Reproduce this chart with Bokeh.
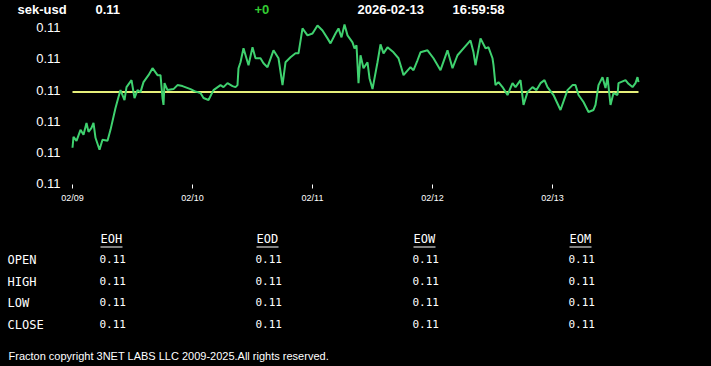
import pandas as pd
from bokeh.plotting import figure
from bokeh.layouts import column, row
from bokeh.models import (Range1d, FixedTicker, DatetimeTickFormatter, PrintfTickFormatter,
                          ColumnDataSource)
from bokeh.core.properties import value
from bokeh.embed import file_html
from bokeh.resources import INLINE

# ---------------- data ----------------
symbol = "sek-usd"
last_price = "0.11"
change = "+0"
stamp_date = "2026-02-13"
stamp_time = "16:59:58"
start_day = "2026-02-09"
day_ticks = ["2026-02-09", "2026-02-10", "2026-02-11", "2026-02-12", "2026-02-13"]
y_ticks = [0.1090, 0.1095, 0.1100, 0.1105, 0.1110, 0.1115]
ref_level = 0.11047

hours = [0.0, 0.2, 0.8, 1.6, 2.2, 2.8, 3.2, 3.8, 4.2, 4.6, 5.4, 6.0, 7.0, 7.6, 8.6, 9.2, 9.6,
         10.4, 10.8, 11.8, 12.4, 13.0, 13.6, 14.2, 15.2, 16.0, 17.0, 17.6, 18.0, 18.2, 18.4,
         19.0, 20.2, 21.0, 22.0, 23.6, 24.4, 25.6, 26.2, 27.2, 28.2, 29.6, 30.2, 31.0, 32.0,
         32.6, 33.0, 33.2, 33.6, 34.2, 35.2, 36.0, 36.6, 37.6, 38.2, 39.0, 40.2, 41.2, 42.0,
         42.6, 43.6, 44.6, 45.2, 46.0, 47.0, 48.0, 49.0, 50.0, 51.0, 51.6, 52.6, 53.2, 53.8,
         54.4, 55.0, 56.0, 56.4, 56.8, 57.2, 57.6, 58.2, 59.0, 59.4, 60.0, 61.0, 61.6, 62.2,
         63.0, 64.2, 65.2, 65.8, 66.2, 67.6, 68.2, 69.0, 69.6, 71.0, 72.2, 73.6, 75.0, 76.0,
         77.0, 78.2, 79.6, 80.2, 80.6, 81.6, 82.6, 83.2, 84.0, 84.2, 84.6, 85.2, 86.0, 87.0,
         88.0, 88.6, 89.6, 90.2, 91.0, 92.0, 92.8, 93.6, 94.4, 95.0, 96.2, 97.6, 99.0, 100.0,
         100.6, 101.2, 102.2, 103.2, 104.2, 104.6, 105.2, 106.0, 106.6, 107.0, 107.6, 108.2,
         109.0, 109.2, 110.6, 111.2, 112.0, 112.6, 113.0, 113.2]
prices = [0.109578, 0.109753, 0.109689, 0.109864, 0.109784, 0.109975, 0.109832, 0.109896,
          0.109975, 0.109737, 0.109546, 0.109705, 0.109689, 0.109864, 0.110214, 0.110389,
          0.110500, 0.110341, 0.110548, 0.110659, 0.110373, 0.110500, 0.110468, 0.110627,
          0.110739, 0.110850, 0.110739, 0.110739, 0.110373, 0.110262, 0.110611, 0.110500,
          0.110516, 0.110580, 0.110564, 0.110516, 0.110484, 0.110452, 0.110373, 0.110341,
          0.110500, 0.110580, 0.110548, 0.110611, 0.110564, 0.110548, 0.110580, 0.110850,
          0.110945, 0.111168, 0.110898, 0.111184, 0.111009, 0.111009, 0.110930, 0.110866,
          0.111136, 0.111009, 0.110580, 0.110945, 0.111025, 0.111088, 0.111088, 0.111486,
          0.111375, 0.111406, 0.111534, 0.111454, 0.111327, 0.111247, 0.111406, 0.111486,
          0.111343, 0.111549, 0.111375, 0.111263, 0.111168, 0.111216, 0.110611, 0.111057,
          0.110850, 0.110945, 0.110691, 0.110516, 0.110945, 0.111231, 0.111088, 0.111184,
          0.111104, 0.111009, 0.110850, 0.110739, 0.110866, 0.110818, 0.110977, 0.111104,
          0.111136, 0.111009, 0.110818, 0.111136, 0.110850, 0.111057, 0.111168, 0.111295,
          0.111104, 0.110898, 0.111327, 0.111168, 0.111184, 0.111009, 0.110898, 0.110580,
          0.110627, 0.110548, 0.110421, 0.110611, 0.110548, 0.110659, 0.110262, 0.110468,
          0.110548, 0.110500, 0.110611, 0.110660, 0.110548, 0.110421, 0.110182, 0.110500,
          0.110580, 0.110580, 0.110421, 0.110309, 0.110150, 0.110182, 0.110262, 0.110580,
          0.110707, 0.110532, 0.110707, 0.110262, 0.110452, 0.110421, 0.110611, 0.110659,
          0.110600, 0.110548, 0.110611, 0.110707, 0.110627]

table_cols = ["EOH", "EOD", "EOW", "EOM"]
row_labels = ["OPEN", "HIGH", "LOW", "CLOSE"]
eoh_vals = [0.1105, 0.1107, 0.1104, 0.1106]
eod_vals = [0.1103, 0.1108, 0.1101, 0.1106]
eow_vals = [0.1096, 0.1115, 0.1095, 0.1106]
eom_vals = [0.1098, 0.1115, 0.1090, 0.1106]
footer = "Fracton copyright 3NET LABS LLC 2009-2025.All rights reserved."

W = 711
H_HEAD, H_CHART, H_TAB = 18, 192, 156
SANS = "Liberation Sans"
MONO = "DejaVu Sans Mono"
BLACK_CSS = {"background-color": "#000000"}


def panel(height, y_top):
    f = figure(width=W, height=height, output_backend="svg", toolbar_location=None,
               x_range=Range1d(0, W), y_range=Range1d(y_top + height, y_top),
               x_axis_location=None, y_axis_location=None,
               min_border=0, min_border_left=0, min_border_right=0,
               min_border_top=0, min_border_bottom=0, styles=BLACK_CSS)
    f.background_fill_color = "black"
    f.border_fill_color = "black"
    f.outline_line_color = None
    f.grid.visible = False
    return f


# ---------------- header ----------------
head = panel(H_HEAD, 0)
head.text(x=[17, 95, 357, 452], y=[9, 9, 9, 9],
          text=[symbol, last_price, stamp_date, stamp_time],
          text_color="white", text_font=value(SANS), text_font_size="13px",
          text_font_style="bold", text_baseline="middle", text_align="left")
head.text(x=[254], y=[9], text=[change], text_color="#33cc33", text_font=value(SANS),
          text_font_size="13px", text_font_style="bold", text_baseline="middle",
          text_align="left")

# ---------------- chart ----------------
t0 = pd.Timestamp(start_day)
times = [t0 + pd.Timedelta(hours=h) for h in hours]
src = ColumnDataSource(dict(t=times, p=prices))

p = figure(width=W, height=H_CHART, x_axis_type="datetime", output_backend="svg",
           toolbar_location=None, min_border_left=65, min_border_right=11,
           min_border_top=0, min_border_bottom=26, styles=BLACK_CSS,
           x_range=Range1d(t0 - pd.Timedelta(hours=1.4), t0 + pd.Timedelta(hours=125.6)),
           y_range=Range1d(0.10899, 0.111645))
p.background_fill_color = "black"
p.border_fill_color = "black"
p.outline_line_color = None
p.grid.visible = False

p.line([times[0], times[-1]], [ref_level, ref_level], line_color="#e6ef7a", line_width=2)
p.line("t", "p", source=src, line_color="#3fd16f", line_width=2)

tick_ms = [pd.Timestamp(d).value // 10**6 for d in day_ticks]
p.xaxis.ticker = FixedTicker(ticks=tick_ms)
fmt = "%m/%d"
p.xaxis.formatter = DatetimeTickFormatter(days=fmt, months=fmt, hours=fmt, years=fmt,
                                          minutes=fmt, hourmin=fmt, minsec=fmt, seconds=fmt,
                                          milliseconds=fmt, microseconds=fmt)
p.xaxis.axis_line_color = None
p.xaxis.major_tick_line_color = "white"
p.xaxis.major_tick_out = 4
p.xaxis.major_tick_in = 0
p.xaxis.minor_tick_line_color = None
p.xaxis.major_label_text_color = "white"
p.xaxis.major_label_text_font = SANS
p.xaxis.major_label_text_font_size = "9px"
p.xaxis.major_label_standoff = 4

p.yaxis.ticker = FixedTicker(ticks=y_ticks)
p.yaxis.formatter = PrintfTickFormatter(format="%.2f")
p.yaxis.axis_line_color = None
p.yaxis.major_tick_line_color = None
p.yaxis.minor_tick_line_color = None
p.yaxis.major_tick_out = 0
p.yaxis.major_tick_in = 0
p.yaxis.major_label_text_color = "white"
p.yaxis.major_label_text_font = SANS
p.yaxis.major_label_text_font_size = "13px"
p.yaxis.major_label_standoff = 5

# ---------------- table ----------------
tab = panel(H_TAB, H_HEAD + H_CHART)
col_x = [99, 255, 412, 568]
row_y = [258, 280, 301, 323]
all_vals = [eoh_vals, eod_vals, eow_vals, eom_vals]

tab.text(x=[cx + 1 for cx in col_x], y=[238] * 4, text=table_cols, text_color="white",
         text_font=value(MONO), text_font_size="12px", text_baseline="middle",
         text_align="left")
tab.segment(x0=[cx + 1 for cx in col_x], x1=[cx + 23 for cx in col_x],
            y0=[246.5] * 4, y1=[246.5] * 4, line_color="white", line_width=1)
tab.text(x=[7] * 4, y=[ry + 1 for ry in row_y], text=row_labels, text_color="white",
         text_font=value(MONO), text_font_size="12px", text_baseline="middle",
         text_align="left")
vx, vy, vt = [], [], []
for cx, vals in zip(col_x, all_vals):
    for ry, v in zip(row_y, vals):
        vx.append(cx)
        vy.append(ry)
        vt.append("%.2f" % v)
tab.text(x=vx, y=vy, text=vt, text_color="white", text_font=value(MONO),
         text_font_size="11px", text_baseline="middle", text_align="left")
tab.text(x=[8], y=[355], text=[footer], text_color="white", text_font=value(SANS),
         text_font_size="11px", text_baseline="middle", text_align="left")

layout = column(head, row(p, spacing=0, styles=BLACK_CSS), tab, spacing=0,
                styles=BLACK_CSS)
open("out.html", "w").write(file_html(layout, INLINE))
